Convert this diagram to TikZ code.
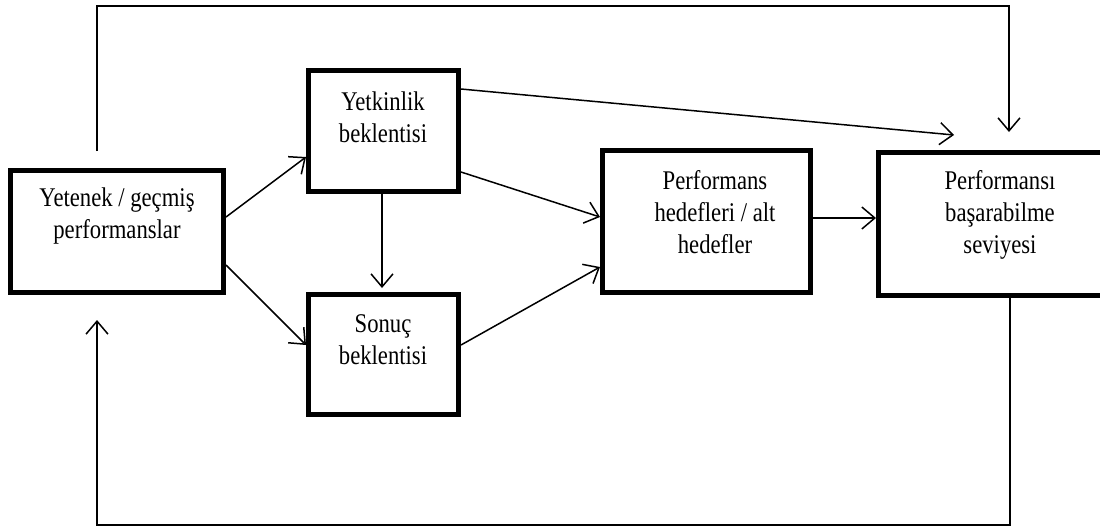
\documentclass[tikz,border=0pt]{standalone}
\usepackage{fontspec}
\setmainfont[FakeStretch=0.84]{Liberation Serif}
\usetikzlibrary{arrows.meta,calc}
\begin{document}
\begin{tikzpicture}[x=1pt,y=-1pt,
  box/.style={draw=black,line width=5pt,fill=white,inner sep=0pt},
  txt/.style={align=center,font=\fontsize{27}{32}\selectfont,inner sep=0pt},
  conn/.style={draw=black,line width=1.5pt},
  arr/.style={conn,-{Straight Barb[length=13pt,width=22pt,line width=1.5pt]}}]
\useasboundingbox (0,0) rectangle (1100,528);
\clip (0,0) rectangle (1100,528);
\fill[white] (0,0) rectangle (1100,528);
% boxes
\node[box,minimum width=213pt,minimum height=122pt] (A) at (117,231.5) {};
\node[box,minimum width=150pt,minimum height=121pt] (B) at (383.5,131) {};
\node[box,minimum width=150pt,minimum height=120pt] (C) at (383.5,354.5) {};
\node[box,minimum width=208pt,minimum height=142pt] (D) at (706.5,221.5) {};
\node[box,minimum width=245pt,minimum height=143pt] (E) at (1001,224) {};
% texts
\node[txt] (At) at (117,216) {Yetenek / geçmiş\\performanslar};
\node[txt] (Bt) at (383,117) {Yetkinlik\\beklentisi};
\node[txt] (Ct) at (383,340) {Sonuç\\beklentisi};
\node[txt] (Dt) at (715,212) {Performans\\hedefleri / alt\\hedefler};
\node[txt] (Et) at (1000,215) {Performansı\\başarabilme\\seviyesi};
% free ends
\coordinate (topstart) at (97,151);
\coordinate (topL) at (97,6);
\coordinate (topR) at (1009,6);
\coordinate (topend) at (1009,132);
\coordinate (Btip) at (954,135);
\coordinate (botR) at (1010,525);
\coordinate (botL) at (97,525);
\coordinate (botend) at (97,320);
% connectors
\draw[arr] (A.east |- 0,217) -- (B.west |- 0,157);
\draw[arr] (A.east |- 0,265) -- (C.west |- 0,345);
\draw[arr,shorten >=4pt] (B.south -| 382,0) -- (C.north -| 382,0);
\draw[arr] (B.east |- 0,172) -- (D.west |- 0,217);
\draw[arr] (C.east |- 0,345) -- (D.west |- 0,267);
\draw[arr] (D.east |- 0,218) -- (E.west |- 0,218);
\draw[arr] (B.east |- 0,89) -- (Btip);
\draw[arr] (topstart) -- (topL) -- (topR) -- (topend);
\draw[arr] (E.south -| botR) -- (botR) -- (botL) -- (botend);
\end{tikzpicture}
\end{document}
